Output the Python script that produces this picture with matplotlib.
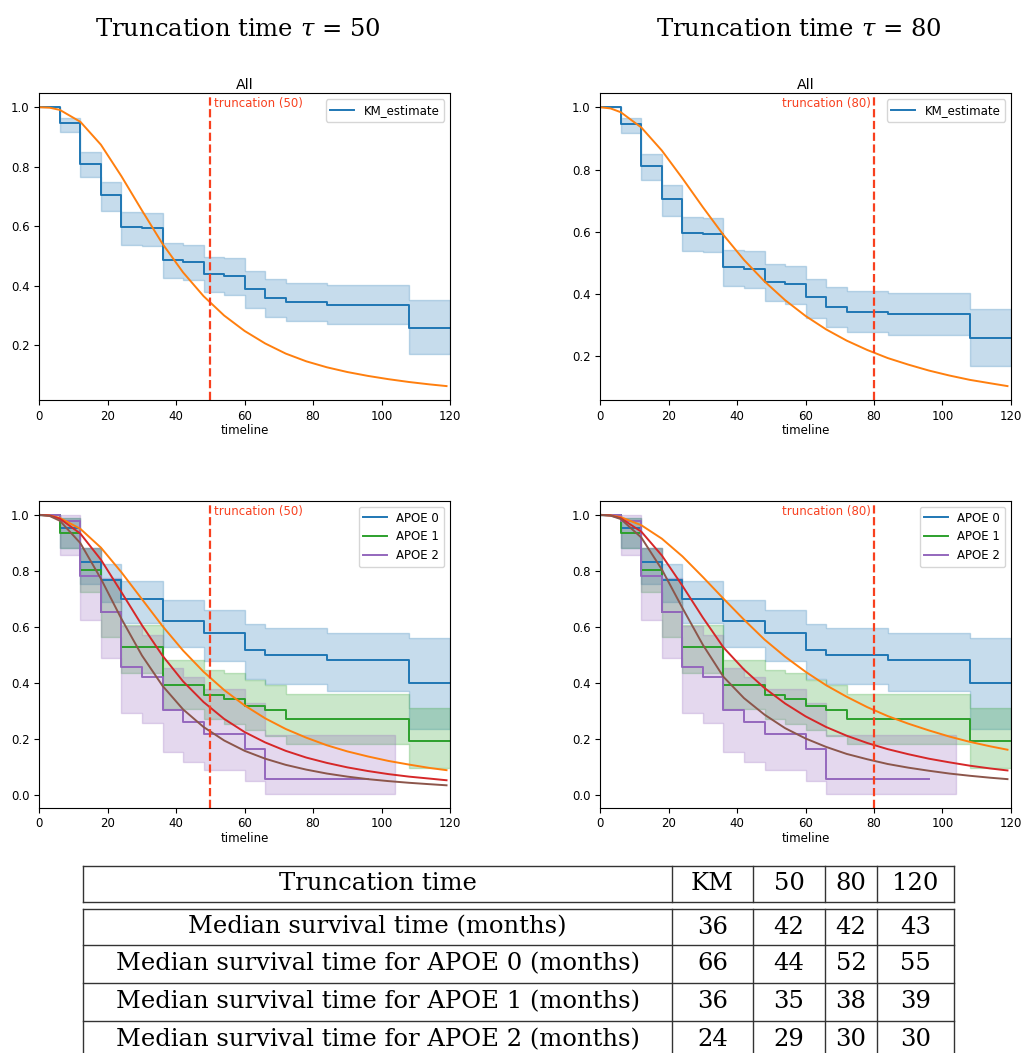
import matplotlib
matplotlib.use("Agg")
import matplotlib.pyplot as plt

# Kaplan-Meier estimate for everybody (same in both columns)
km_t = [0, 6, 12, 18, 24, 30, 36, 42, 48, 54, 60, 66, 72, 84, 108, 120]
km_s = [1.0, 0.947, 0.81, 0.705, 0.597, 0.593, 0.486, 0.48, 0.44, 0.433, 0.39, 0.359, 0.344, 0.336, 0.259, 0.259]
km_hi = [1.0, 0.965, 0.85, 0.75, 0.647, 0.643, 0.543, 0.537, 0.498, 0.492, 0.45, 0.424, 0.41, 0.403, 0.353, 0.353]
km_lo = [1.0, 0.917, 0.765, 0.65, 0.538, 0.534, 0.425, 0.42, 0.378, 0.37, 0.325, 0.295, 0.28, 0.27, 0.17, 0.17]

# KM per APOE group
apoe0_t = [0, 6, 12, 18, 24, 36, 48, 60, 66, 84, 108, 120]
apoe0_s = [1.0, 0.952, 0.83, 0.767, 0.70, 0.62, 0.58, 0.517, 0.50, 0.481, 0.40, 0.40]
apoe0_hi = [1.0, 0.99, 0.88, 0.825, 0.765, 0.695, 0.66, 0.61, 0.595, 0.58, 0.559, 0.559]
apoe0_lo = [1.0, 0.88, 0.755, 0.69, 0.615, 0.53, 0.48, 0.414, 0.395, 0.372, 0.235, 0.235]

apoe1_t = [0, 6, 12, 18, 24, 36, 48, 54, 60, 66, 72, 108, 120]
apoe1_s = [1.0, 0.936, 0.802, 0.653, 0.527, 0.394, 0.358, 0.343, 0.318, 0.304, 0.27, 0.192, 0.192]
apoe1_hi = [1.0, 0.99, 0.88, 0.77, 0.607, 0.481, 0.446, 0.435, 0.412, 0.392, 0.362, 0.312, 0.312]
apoe1_lo = [1.0, 0.88, 0.725, 0.563, 0.435, 0.306, 0.27, 0.255, 0.234, 0.212, 0.182, 0.095, 0.095]

apoe2_t = [0, 6, 12, 18, 24, 30, 36, 42, 48, 60, 66, 96]
apoe2_s = [1.0, 0.977, 0.783, 0.655, 0.458, 0.42, 0.305, 0.261, 0.219, 0.163, 0.056, 0.056]
apoe2_ci_t = [0, 6, 12, 18, 24, 30, 36, 42, 48, 60, 66, 104]
apoe2_hi = [1.0, 1.0, 0.882, 0.775, 0.605, 0.57, 0.455, 0.42, 0.38, 0.33, 0.215, 0.215]
apoe2_lo = [1.0, 0.857, 0.625, 0.489, 0.293, 0.256, 0.155, 0.119, 0.088, 0.05, 0.005, 0.005]

# fitted survival curves
fit_t = [0, 3, 6, 12, 18, 24, 30, 36, 42, 48, 54, 60, 66, 72, 78, 84, 90, 96, 102, 108, 114, 119]
fit_all_50 = [1.0, 0.9985, 0.991, 0.951, 0.874, 0.768, 0.653, 0.541, 0.445, 0.365, 0.300, 0.248, 0.206,
              0.172, 0.146, 0.126, 0.110, 0.097, 0.086, 0.0765, 0.0685, 0.0627]
fit_all_80 = [1.0, 0.9962, 0.984, 0.935, 0.861, 0.772, 0.679, 0.590, 0.510, 0.441, 0.381, 0.330, 0.287,
              0.251, 0.221, 0.195, 0.174, 0.155, 0.139, 0.125, 0.114, 0.105]
fit_apoe_50 = [
    [1.0, 0.9978, 0.989, 0.950, 0.883, 0.795, 0.699, 0.603, 0.516, 0.440, 0.375, 0.320, 0.274,
     0.236, 0.205, 0.178, 0.156, 0.138, 0.122, 0.109, 0.097, 0.089],
    [1.0, 0.9974, 0.9865, 0.933, 0.840, 0.724, 0.606, 0.4975, 0.406, 0.332, 0.272, 0.225, 0.188,
     0.158, 0.134, 0.115, 0.099, 0.086, 0.075, 0.066, 0.059, 0.053],
    [1.0, 0.996, 0.979, 0.899, 0.772, 0.629, 0.498, 0.390, 0.306, 0.243, 0.195, 0.158, 0.130,
     0.108, 0.091, 0.077, 0.066, 0.057, 0.050, 0.044, 0.039, 0.035],
]
fit_apoe_80 = [
    [1.0, 0.9982, 0.9918, 0.963, 0.915, 0.852, 0.778, 0.701, 0.626, 0.555, 0.494, 0.440, 0.392,
     0.351, 0.314, 0.282, 0.255, 0.231, 0.209, 0.190, 0.174, 0.162],
    [1.0, 0.9977, 0.988, 0.940, 0.855, 0.747, 0.633, 0.527, 0.448, 0.382, 0.327, 0.281, 0.243,
     0.212, 0.186, 0.164, 0.146, 0.130, 0.117, 0.105, 0.095, 0.088],
    [1.0, 0.9973, 0.985, 0.919, 0.805, 0.668, 0.536, 0.422, 0.346, 0.287, 0.239, 0.202, 0.172,
     0.147, 0.128, 0.111, 0.098, 0.087, 0.077, 0.069, 0.062, 0.057],
]
fit_colors = ["#ff7f0e", "#d62728", "#8c564b"]

truncations = [50, 80]

# table
table_cols = ["KM", "50", "80", "120"]
table_rows = ["Median survival time (months)",
              "Median survival time for APOE 0 (months)",
              "Median survival time for APOE 1 (months)",
              "Median survival time for APOE 2 (months)"]
table_vals = [[36, 42, 42, 43],
              [66, 44, 52, 55],
              [36, 35, 38, 39],
              [24, 29, 30, 30]]

plt.rcParams["font.size"] = 8.5
plt.rcParams["mathtext.fontset"] = "dejavuserif"
trunc_color = "#f8401f"


def km_curve(ax, t, s, lo, hi, color, label, ci_t=None):
    if ci_t is None:
        ci_t = t
    ax.fill_between(ci_t, lo, hi, step="post", color=color, alpha=0.25, linewidth=1)
    ax.step(t, s, where="post", color=color, lw=1.4, label=label)


def truncation(ax, tau):
    ax.axvline(tau, color=trunc_color, ls="--", lw=1.6)
    if tau < 60:
        ax.text(tau + 1, 0.99, "truncation (%d)" % tau, color=trunc_color, ha="left", va="bottom")
    else:
        ax.text(tau - 0.8, 0.99, "truncation (%d)" % tau, color=trunc_color, ha="right", va="bottom")


fig = plt.figure(figsize=(10.24, 10.53), dpi=100)

lefts = [0.0384, 0.5862]
for i, tau in enumerate(truncations):
    fig.text(lefts[i] + 0.194, 0.972, r"Truncation time $\tau$ = %d" % tau,
             family="DejaVu Serif", fontsize=17.5, ha="center", va="center")

    # top row: everybody
    ax = fig.add_axes([lefts[i], 0.6201, 0.401, 0.2913])
    km_curve(ax, km_t, km_s, km_lo, km_hi, "#1f77b4", "KM_estimate")
    ax.plot(fit_t, fit_all_50 if tau == 50 else fit_all_80, color=fit_colors[0], lw=1.4)
    truncation(ax, tau)
    ax.set_xlim(0, 120)
    ax.set_title("All", pad=3)
    ax.set_xlabel("timeline", labelpad=1)
    ax.legend(loc="upper right")

    # bottom row: by APOE group
    ax = fig.add_axes([lefts[i], 0.2330, 0.401, 0.2913])
    km_curve(ax, apoe0_t, apoe0_s, apoe0_lo, apoe0_hi, "#1f77b4", "APOE 0")
    km_curve(ax, apoe1_t, apoe1_s, apoe1_lo, apoe1_hi, "#2ca02c", "APOE 1")
    km_curve(ax, apoe2_t, apoe2_s, apoe2_lo, apoe2_hi, "#9467bd", "APOE 2", ci_t=apoe2_ci_t)
    fits = fit_apoe_50 if tau == 50 else fit_apoe_80
    for f, c in zip(fits, fit_colors):
        ax.plot(fit_t, f, color=c, lw=1.4)
    truncation(ax, tau)
    ax.set_xlim(0, 120)
    ax.set_xlabel("timeline", labelpad=1)
    ax.legend(loc="upper right")

# table drawn in pixel coordinates
tab = fig.add_axes([0, 0, 1, 1])
tab.set_xlim(0, 1024)
tab.set_ylim(1053, 0)
tab.axis("off")

col_x = [83, 672, 753, 825, 877, 954]
head_y = [866, 902]
body_y = [909, 945, 983, 1021, 1059]
lc = "#333333"
for y in head_y:
    tab.plot([col_x[0], col_x[-1]], [y, y], color=lc, lw=1)
for y in body_y[:-1]:
    tab.plot([col_x[0], col_x[-1]], [y, y], color=lc, lw=1)
for x in col_x:
    tab.plot([x, x], head_y, color=lc, lw=1)
    tab.plot([x, x], [body_y[0], body_y[-1]], color=lc, lw=1)

tfont = dict(family="DejaVu Serif", fontsize=17.5, ha="center", va="center")
tab.text((col_x[0] + col_x[1]) / 2, sum(head_y) / 2, "Truncation time", **tfont)
for j, c in enumerate(table_cols):
    tab.text((col_x[j + 1] + col_x[j + 2]) / 2, sum(head_y) / 2, c, **tfont)
for r, label in enumerate(table_rows):
    yc = (body_y[r] + body_y[r + 1]) / 2
    tab.text((col_x[0] + col_x[1]) / 2, yc, label, **tfont)
    for j, v in enumerate(table_vals[r]):
        tab.text((col_x[j + 1] + col_x[j + 2]) / 2, yc, str(v), **tfont)

plt.savefig("out.png", dpi=100)
